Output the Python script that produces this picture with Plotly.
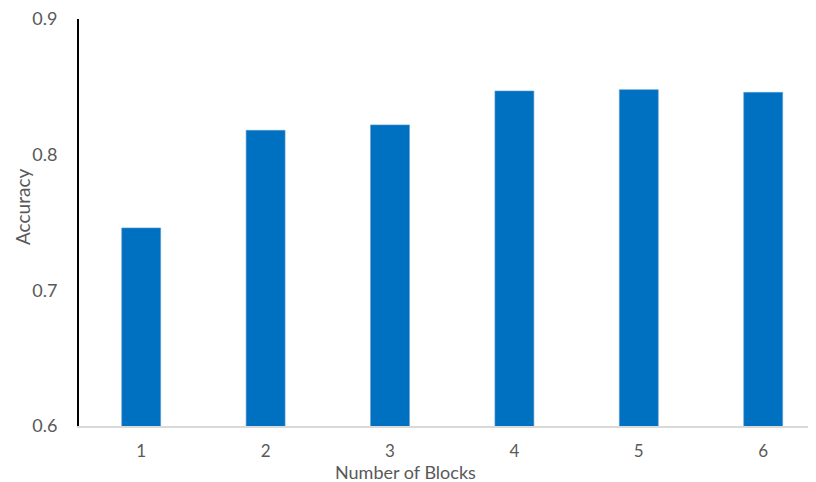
import plotly.graph_objects as go

blocks = [1, 2, 3, 4, 5, 6]
accuracy = [0.746, 0.818, 0.822, 0.847, 0.848, 0.846]
y_ticks = [0.6, 0.7, 0.8, 0.9]
y_tick_labels = ["0.6", "0.7", "0.8", "0.9"]

# page body has an 8px margin; figure is sized to end at the window edge
OFF = 8
W, H = 816 - OFF, 482 - OFF
ml, mr, mt, mb = 79 - OFF, 0, 19 - OFF, 56
font_family = "Lato, 'Open Sans', sans-serif"
gray = "#595959"

pw, ph = W - ml - mr, H - mt - mb
plot_left, plot_bottom = 79, 426  # window pixels


def px_x(x):
    return (x - plot_left) / pw


def px_y(y):
    return (plot_bottom - y) / ph


fig = go.Figure()
fig.add_trace(go.Bar(
    x=blocks, y=accuracy,
    width=0.313,
    marker=dict(color="#0070C0", line=dict(color="#5b9bd5", width=0.6)),
))

fig.update_layout(
    width=W, height=H,
    margin=dict(l=ml, r=mr, t=mt, b=mb),
    plot_bgcolor="white", paper_bgcolor="white",
    showlegend=False,
    font=dict(family=font_family, color=gray, size=18),
    xaxis=dict(
        range=[0.5, 0.5 + pw / 124.4],
        tickmode="array", tickvals=blocks, ticktext=[str(b) for b in blocks],
        showgrid=False, zeroline=False,
        showline=True, linecolor="#d9d9d9", linewidth=1.5,
        ticks="", ticklabelstandoff=9,
        tickfont=dict(size=17, color=gray),
    ),
    yaxis=dict(
        range=[0.5999, 0.9001],
        tickmode="array", tickvals=y_ticks, ticktext=y_tick_labels,
        showgrid=False, zeroline=False,
        showline=True, linecolor="black", linewidth=2,
        ticks="", ticklabelstandoff=16, ticklabeloverflow="allow",
        tickfont=dict(size=18, color=gray),
    ),
    annotations=[
        dict(text="Number of Blocks", x=px_x(405), y=px_y(472), xref="paper", yref="paper",
             xanchor="center", yanchor="middle", showarrow=False,
             font=dict(size=18, color=gray)),
        dict(text="Accuracy", x=px_x(22), y=px_y(207), xref="paper", yref="paper",
             xanchor="center", yanchor="middle", textangle=-90, showarrow=False,
             font=dict(size=19, color=gray)),
    ],
)

fig.write_html("out.html")
